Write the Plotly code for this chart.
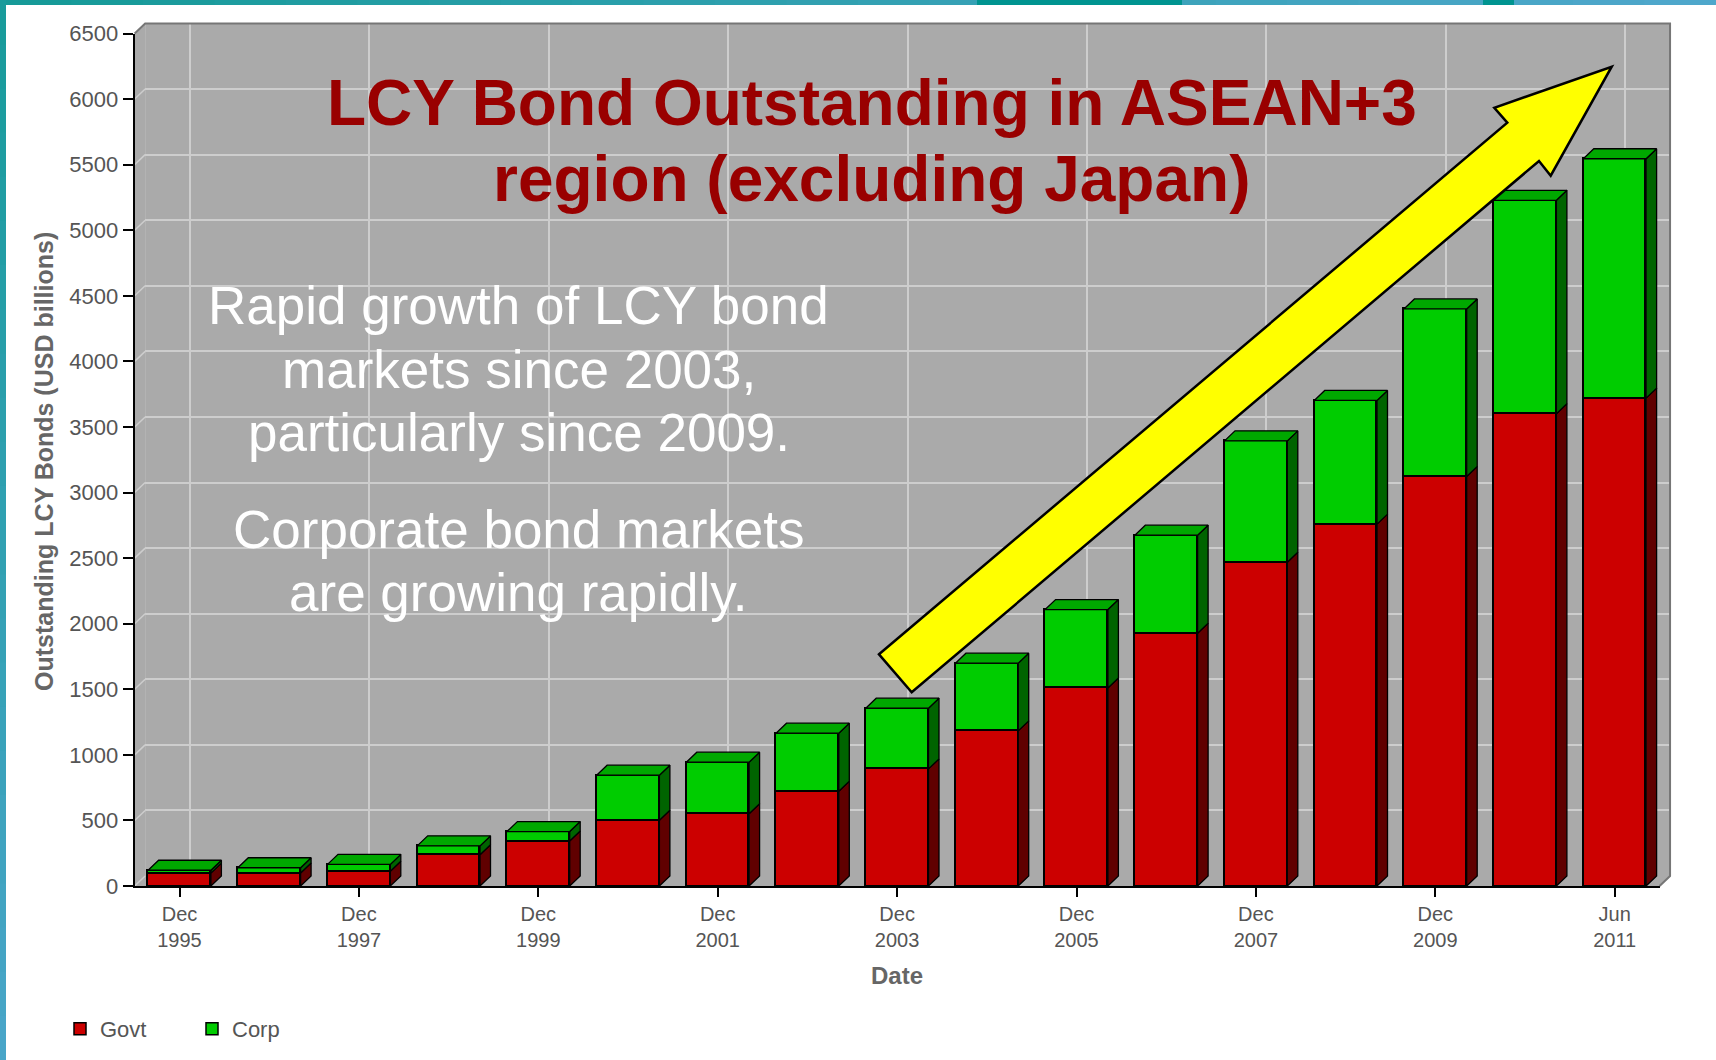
import plotly.graph_objects as go

# ---------------- data ----------------
categories = ["Dec 1995", "Dec 1996", "Dec 1997", "Dec 1998", "Dec 1999", "Dec 2000",
              "Dec 2001", "Dec 2002", "Dec 2003", "Dec 2004", "Dec 2005", "Dec 2006",
              "Dec 2007", "Dec 2008", "Dec 2009", "Dec 2010", "Jun 2011"]
govt = [98, 99, 113, 238, 343, 502, 551, 722, 893, 1183, 1510, 1927, 2469, 2759, 3123, 3601, 3720]
corp = [22, 40, 52, 68, 72, 343, 393, 443, 463, 516, 598, 748, 925, 943, 1277, 1627, 1825]
tick_categories = ["Dec 1995", "Dec 1997", "Dec 1999", "Dec 2001", "Dec 2003",
                   "Dec 2005", "Dec 2007", "Dec 2009", "Jun 2011"]
tick_text = ["Dec<br>1995", "Dec<br>1997", "Dec<br>1999", "Dec<br>2001", "Dec<br>2003",
             "Dec<br>2005", "Dec<br>2007", "Dec<br>2009", "Jun<br>2011"]
y_ticks = [0, 500, 1000, 1500, 2000, 2500, 3000, 3500, 4000, 4500, 5000, 5500, 6000, 6500]
y_max = 6500

title_lines = ["LCY Bond Outstanding in ASEAN+3", "region (excluding Japan)"]
note_lines = ["Rapid growth of LCY bond", "markets since 2003,", "particularly since 2009.",
              "Corporate bond markets", "are growing rapidly."]

# ---------------- geometry (pixels) ----------------
W, H = 1716, 1060
X0_PX = 134.65      # left of front plot
CAT_PX = 89.7       # width of one category
Y0_PX = 886.0       # value 0 (front)
YT_PX = 33.5        # value y_max (front)
DEPX, DEPY = 10.5, 10.0   # 3-D depth offset
BW = 0.7

n = len(categories)
pos = list(range(n))
tick_pos = [categories.index(c) for c in tick_categories]
total = [g + c for g, c in zip(govt, corp)]

dx = DEPX / CAT_PX
dy = DEPY * y_max / (Y0_PX - YT_PX)


def px(x):
    return x / W


def py(y):
    return 1 - y / H


front_xd = [px(X0_PX), px(X0_PX + n * CAT_PX)]
front_yd = [py(Y0_PX), py(YT_PX)]
back_xd = [px(X0_PX + DEPX), px(X0_PX + n * CAT_PX + DEPX)]
back_yd = [py(Y0_PX - DEPY), py(YT_PX - DEPY)]

FONT = "Liberation Sans, Arial, sans-serif"


def polys(list_of_pts):
    xs, ys = [], []
    for pts in list_of_pts:
        for a, b in pts:
            xs.append(a)
            ys.append(b)
        xs.append(pts[0][0])
        ys.append(pts[0][1])
        xs.append(None)
        ys.append(None)
    return xs, ys


red_side, green_side, green_top = [], [], []
for i, g, t in zip(pos, govt, total):
    x0, x1 = i - BW / 2, i + BW / 2
    red_side.append([(x1, 0), (x1 + dx, dy), (x1 + dx, g + dy), (x1, g)])
    green_side.append([(x1, g), (x1 + dx, g + dy), (x1 + dx, t + dy), (x1, t)])
    green_top.append([(x0, t), (x0 + dx, t + dy), (x1 + dx, t + dy), (x1, t)])

fig = go.Figure()

# dummy trace for the back-wall subplot
fig.add_trace(go.Scatter(x=[None], y=[None], xaxis="x", yaxis="y", showlegend=False,
                         hoverinfo="skip"))

# left wall grid stubs
stub_x, stub_y = [], []
for v in y_ticks:
    stub_x += [-0.5, -0.5 + dx, None]
    stub_y += [v, v + dy, None]
fig.add_trace(go.Scatter(x=stub_x, y=stub_y, xaxis="x2", yaxis="y2", mode="lines",
                         line=dict(color="#CDCDCD", width=1.5), showlegend=False,
                         hoverinfo="skip"))

fig.add_trace(go.Bar(x=pos, y=govt, name="Govt", width=BW, xaxis="x2", yaxis="y2",
                     marker=dict(color="#CC0000", line=dict(color="black", width=1.5))))
fig.add_trace(go.Bar(x=pos, y=corp, name="Corp", width=BW, xaxis="x2", yaxis="y2",
                     marker=dict(color="#00CC00", line=dict(color="black", width=1.5))))

for pts, col in [(red_side, "#600000"), (green_side, "#006400"), (green_top, "#00A800")]:
    xs, ys = polys(pts)
    fig.add_trace(go.Scatter(x=xs, y=ys, xaxis="x2", yaxis="y2", mode="lines",
                             fill="toself", fillcolor=col,
                             line=dict(color="black", width=1.3),
                             showlegend=False, hoverinfo="skip"))

shapes = []
GREY = "#AAAAAA"
# back wall
shapes.append(dict(type="rect", xref="paper", yref="paper", layer="below",
                   x0=back_xd[0], x1=back_xd[1], y0=back_yd[0], y1=back_yd[1],
                   fillcolor=GREY, line=dict(width=0)))
# left wall
lw = [(X0_PX, YT_PX), (X0_PX + DEPX, YT_PX - DEPY), (X0_PX + DEPX, Y0_PX - DEPY), (X0_PX, Y0_PX)]
shapes.append(dict(type="path", xref="paper", yref="paper", layer="below",
                   path="M" + " L".join(f"{px(a)},{py(b)}" for a, b in lw) + " Z",
                   fillcolor=GREY, line=dict(width=0)))
# floor
fl = [(X0_PX, Y0_PX), (X0_PX + DEPX, Y0_PX - DEPY), (X0_PX + n * CAT_PX + DEPX, Y0_PX - DEPY),
      (X0_PX + n * CAT_PX, Y0_PX)]
shapes.append(dict(type="path", xref="paper", yref="paper", layer="below",
                   path="M" + " L".join(f"{px(a)},{py(b)}" for a, b in fl) + " Z",
                   fillcolor=GREY, line=dict(width=0)))
# back wall top/right edge + left wall top edge
edge = [(X0_PX, YT_PX), (X0_PX + DEPX, YT_PX - DEPY), (X0_PX + n * CAT_PX + DEPX, YT_PX - DEPY),
        (X0_PX + n * CAT_PX + DEPX, Y0_PX - DEPY), (X0_PX + n * CAT_PX, Y0_PX)]
shapes.append(dict(type="path", xref="paper", yref="paper", layer="above",
                   path="M" + " L".join(f"{px(a)},{py(b)}" for a, b in edge),
                   line=dict(color="#767676", width=2)))

# yellow arrow
arrow = [(879, 654.3), (1507.3, 122.7), (1494.3, 107.7), (1611.7, 66.7),
         (1550.7, 175.7), (1539, 161), (911.7, 692.3)]
shapes.append(dict(type="path", xref="paper", yref="paper", layer="above",
                   path="M" + " L".join(f"{px(a)},{py(b)}" for a, b in arrow) + " Z",
                   fillcolor="#FFFF00", line=dict(color="black", width=2.5)))


# slide frame (teal border)
def mix(c1, c2, t):
    return "rgb({},{},{})".format(*[round(a + (b - a) * t) for a, b in zip(c1, c2)])


NSEG = 24
for k in range(NSEG):
    t = k / (NSEG - 1)
    shapes.append(dict(type="rect", xref="paper", yref="paper", layer="above",
                       x0=px(W * k / NSEG), x1=px(min(W, W * (k + 1) / NSEG + 1)), y0=py(5), y1=1,
                       fillcolor=mix((22, 154, 152), (78, 167, 203), t), line=dict(width=0)))
    shapes.append(dict(type="rect", xref="paper", yref="paper", layer="above",
                       x0=0, x1=px(6), y0=py(min(H, H * (k + 1) / NSEG + 1)), y1=py(H * k / NSEG),
                       fillcolor=mix((24, 155, 155), (72, 165, 200), t), line=dict(width=0)))
for a, b in [(977, 1182), (1483, 1514)]:
    shapes.append(dict(type="rect", xref="paper", yref="paper", layer="above",
                       x0=px(a), x1=px(b), y0=py(5), y1=1,
                       fillcolor="#009490", line=dict(width=0)))

annotations = []
for line, yc in zip(title_lines, [102.5, 178.5]):
    annotations.append(dict(text=f"<b>{line}</b>", xref="paper", yref="paper",
                            x=px(871.5), y=py(yc), xanchor="center", yanchor="middle",
                            showarrow=False, font=dict(family=FONT, size=64, color="#990000")))
for line, yc in zip(note_lines, [305.9, 369.4, 432.8, 529.2, 592.6]):
    annotations.append(dict(text=line, xref="paper", yref="paper",
                            x=px(518.8), y=py(yc), xanchor="center", yanchor="middle",
                            showarrow=False, font=dict(family=FONT, size=53, color="white")))
annotations.append(dict(text="<b>Outstanding LCY Bonds (USD billions)</b>", xref="paper",
                        yref="paper", x=px(44), y=py(462), textangle=-90,
                        xanchor="center", yanchor="middle", showarrow=False,
                        font=dict(family=FONT, size=25, color="#666666")))
annotations.append(dict(text="<b>Date</b>", xref="paper", yref="paper", x=px(897), y=py(975),
                        xanchor="center", yanchor="middle", showarrow=False,
                        font=dict(family=FONT, size=24, color="#666666")))

fig.update_layout(
    width=W, height=H, autosize=False,
    margin=dict(l=0, r=0, t=0, b=0, pad=0, autoexpand=False),
    paper_bgcolor="white", plot_bgcolor="rgba(0,0,0,0)",
    barmode="stack", bargap=0,
    font=dict(family=FONT, color="#555555"),
    xaxis=dict(domain=back_xd, range=[-0.5, n - 0.5], tickvals=tick_pos, showticklabels=False,
               ticks="", showgrid=True, gridcolor="#CDCDCD", gridwidth=2, zeroline=False,
               showline=False, fixedrange=True),
    yaxis=dict(domain=back_yd, range=[0, y_max], tickvals=y_ticks, showticklabels=False,
               ticks="", showgrid=True, gridcolor="#CDCDCD", gridwidth=2, zeroline=False,
               showline=False, fixedrange=True),
    xaxis2=dict(domain=front_xd, range=[-0.5, n - 0.5], anchor="y2", tickvals=tick_pos,
                ticktext=tick_text, ticks="outside", ticklen=9, tickwidth=2, tickcolor="black",
                showline=True, linecolor="black", linewidth=2, showgrid=False, zeroline=False,
                tickfont=dict(family=FONT, size=20, color="#555555"), fixedrange=True),
    yaxis2=dict(domain=front_yd, range=[0, y_max], anchor="x2", tickvals=y_ticks,
                ticks="outside", ticklen=10, tickwidth=2, tickcolor="black",
                showline=True, linecolor="black", linewidth=2, showgrid=False, zeroline=False,
                tickfont=dict(family=FONT, size=22, color="#555555"), fixedrange=True),
    legend=dict(orientation="h", x=px(60), xanchor="left", y=py(1029), yanchor="middle",
                traceorder="normal", font=dict(family=FONT, size=22, color="#555555"),
                bgcolor="rgba(0,0,0,0)", entrywidth=87, entrywidthmode="pixels"),
    shapes=shapes,
    annotations=annotations,
    showlegend=True,
)

fig.write_html("out.html", config={"displayModeBar": False},
               post_script="document.body.style.margin='0';document.body.style.overflow='hidden';")
